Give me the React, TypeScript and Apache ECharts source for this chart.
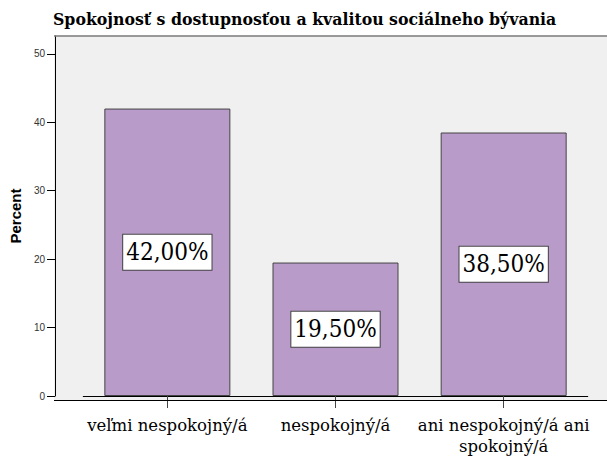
import React, { useEffect, useRef } from "react";
import * as echarts from "echarts";

const title = "Spokojnosť s dostupnosťou a kvalitou sociálneho bývania";
const categories = ["veľmi nespokojný/á", "nespokojný/á", "ani nespokojný/á ani\nspokojný/á"];
const percentValues = [42.0, 19.5, 38.5];
const yTicks = [0, 10, 20, 30, 40, 50];
const yAxisName = "Percent";

const SANS = "Liberation Sans";
const SERIF = "DejaVu Serif";
const SERIF_C = "DejaVu Serif Condensed";

export default function App() {
  const ref = useRef<HTMLDivElement>(null);
  useEffect(() => {
    if (!ref.current) return;
    const chart = echarts.init(ref.current, null, { renderer: "svg" });
    const plotL = 54, plotR = 607, plotT = 36, plotB = 400;
    const gridL = 82.25, gridR = 587.75;
    chart.setOption({
      animation: false,
      backgroundColor: "#ffffff",
      title: {
        text: title,
        left: 53,
        top: 10,
        padding: 0,
        textStyle: { fontFamily: SERIF_C, fontWeight: "bold", fontSize: 17.5, color: "#000" },
      },
      grid: { left: gridL, right: 607 - gridR, top: plotT, bottom: 457 - plotB, containLabel: false },
      xAxis: {
        type: "category",
        data: categories,
        axisLine: { show: true, lineStyle: { color: "#000", width: 1 } },
        axisTick: { show: true, alignWithLabel: true, length: 12, lineStyle: { color: "#444" } },
        axisLabel: {
          margin: 19,
          fontFamily: SERIF,
          fontSize: 16.5,
          lineHeight: 21,
          color: "#000",
          interval: 0,
        },
      },
      yAxis: {
        type: "value",
        min: 0,
        max: 52.6,
        interval: 10,
        offset: gridL - plotL,
        name: yAxisName,
        nameLocation: "middle",
        nameGap: 26,
        nameTextStyle: { fontFamily: SANS, fontWeight: "bold", fontSize: 15, color: "#000" },
        splitLine: { show: false },
        axisLine: { show: true, lineStyle: { color: "#000", width: 1 } },
        axisTick: { show: true, length: 8, customValues: yTicks, lineStyle: { color: "#000" } },
        axisLabel: {
          customValues: yTicks,
          fontFamily: SANS,
          fontSize: 10,
          color: "#333",
          margin: 10,
        },
      },
      graphic: [
        {
          type: "rect",
          z: -100,
          silent: true,
          shape: { x: plotL, y: plotT, width: plotR - plotL, height: plotB - plotT },
          style: { fill: "#f0f0f0" },
        },
        {
          type: "line",
          z: 100,
          silent: true,
          shape: { x1: plotL, y1: plotT, x2: plotR, y2: plotT },
          style: { stroke: "#7a7a7a", lineWidth: 1.5 },
        },
        {
          type: "line",
          z: 100,
          silent: true,
          shape: { x1: plotL, y1: plotB + 0.5, x2: plotR, y2: plotB + 0.5 },
          style: { stroke: "#000", lineWidth: 1 },
        },
      ],
      series: [
        {
          type: "bar",
          data: percentValues,
          barWidth: 126,
          itemStyle: { color: "#b89bc9", borderColor: "#444", borderWidth: 1 },
          label: {
            show: true,
            position: "inside",
            formatter: (p: any) => p.value.toFixed(2).replace(".", ",") + "%",
            fontFamily: SERIF_C,
            fontSize: 24,
            lineHeight: 28,
            color: "#000",
            backgroundColor: "#fff",
            borderColor: "#444",
            borderWidth: 1,
            padding: [4, 3, 3, 3],
          },
        },
      ],
    });
    return () => chart.dispose();
  }, []);
  return <div ref={ref} style={{ width: 607, height: 457, position: "absolute", left: 0, top: 0 }} />;
}
